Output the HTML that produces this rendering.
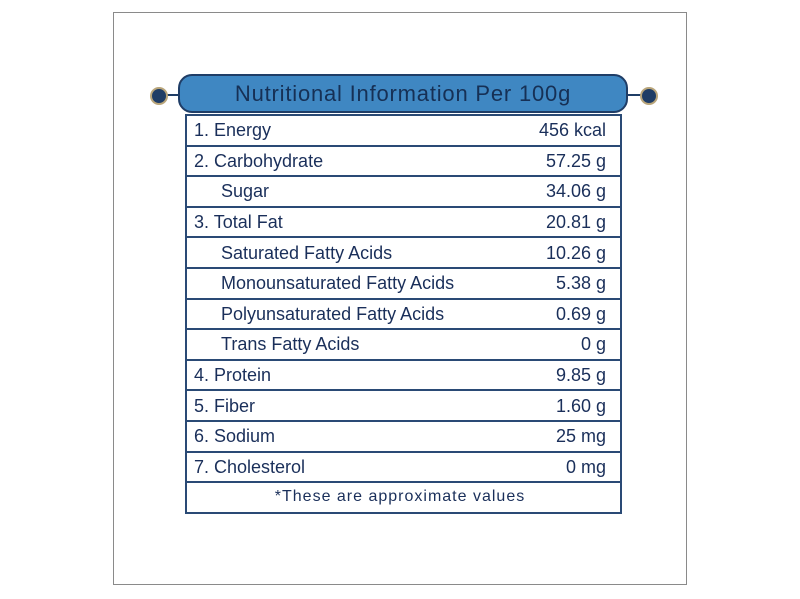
<!DOCTYPE html>
<html><head><style>
body{margin:0;width:800px;height:599px;background:#fff;position:relative;overflow:hidden;font-family:"Liberation Sans",sans-serif;}
.frame{position:absolute;left:113px;top:12px;width:572px;height:571px;border:1px solid #8a8a8a;}
.banner{position:absolute;left:178px;top:74px;width:450px;height:39px;background:#3f87c2;border:2px solid #1f3d66;border-radius:14px;box-sizing:border-box;text-align:center;color:#163055;font-size:22px;line-height:36px;letter-spacing:0.8px;}
.orn{position:absolute;width:14px;height:14px;background:#1f3d66;border:2px solid #b9a57a;border-radius:50%;top:87px;}
.ln{position:absolute;top:94px;height:2px;background:#1f3d66;}
table{position:absolute;left:185px;top:114px;width:437px;border-collapse:collapse;border:2px solid #2a4a75;}
td{height:28.6px;border-top:2px solid #2a4a75;padding:0 14px 0 7px;color:#1a2f5a;font-size:18px;line-height:28px;}
td.v{text-align:right;}
td.i{padding-left:34px;}
tr:first-child td{border-top:none;}
td.f{text-align:center;font-size:16px;letter-spacing:1px;}
</style></head><body>
<div class="frame"></div>
<div class="ln" style="left:164px;width:16px"></div>
<div class="ln" style="left:626px;width:16px"></div>
<div class="orn" style="left:150px"></div>
<div class="orn" style="left:640px"></div>
<div class="banner">Nutritional Information Per 100g</div>
<table>
<tr><td>1. Energy</td><td class="v">456 kcal</td></tr>
<tr><td>2. Carbohydrate</td><td class="v">57.25 g</td></tr>
<tr><td class="i">Sugar</td><td class="v">34.06 g</td></tr>
<tr><td>3. Total Fat</td><td class="v">20.81 g</td></tr>
<tr><td class="i">Saturated Fatty Acids</td><td class="v">10.26 g</td></tr>
<tr><td class="i">Monounsaturated Fatty Acids</td><td class="v">5.38 g</td></tr>
<tr><td class="i">Polyunsaturated Fatty Acids</td><td class="v">0.69 g</td></tr>
<tr><td class="i">Trans Fatty Acids</td><td class="v">0 g</td></tr>
<tr><td>4. Protein</td><td class="v">9.85 g</td></tr>
<tr><td>5. Fiber</td><td class="v">1.60 g</td></tr>
<tr><td>6. Sodium</td><td class="v">25 mg</td></tr>
<tr><td>7. Cholesterol</td><td class="v">0 mg</td></tr>
<tr><td class="f" colspan="2">*These are approximate values</td></tr>
</table>
</body></html>
